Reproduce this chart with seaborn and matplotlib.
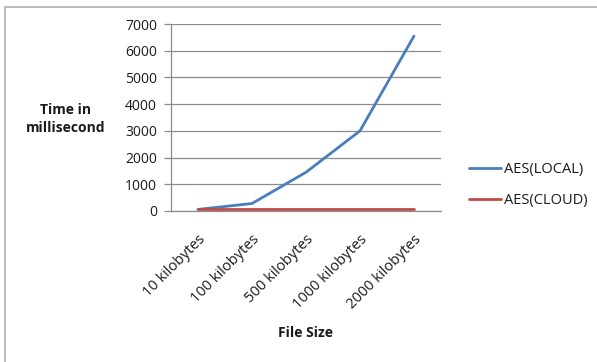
import matplotlib
matplotlib.use("Agg")
import matplotlib.pyplot as plt
from matplotlib.patches import Rectangle
import seaborn as sns
import pandas as pd

# Encryption time per file size
file_sizes = ["10 kilobytes", "100 kilobytes", "500 kilobytes", "1000 kilobytes", "2000 kilobytes"]
aes_local = [60, 280, 1450, 3000, 6550]
aes_cloud = [80, 80, 80, 80, 80]
series_names = ["AES(LOCAL)", "AES(CLOUD)"]
y_ticks = [0, 1000, 2000, 3000, 4000, 5000, 6000, 7000]

df = pd.DataFrame({
    "File Size": file_sizes * 2,
    "Time": aes_local + aes_cloud,
    "Series": [series_names[0]] * len(file_sizes) + [series_names[1]] * len(file_sizes),
})

sns.set_style("white")
plt.rcParams["font.family"] = ["Open Sans", "DejaVu Sans"]
plt.rcParams["text.color"] = "#1a1a1a"

fig = plt.figure(figsize=(5.97, 3.62), dpi=100)
ax = fig.add_axes([171 / 597, 1 - 211 / 362, 270 / 597, 187 / 362])

# chart frame
fig.patches.append(Rectangle((5 / 597, -0.05), 1.1, 1 - 7 / 362 + 0.05,
                             transform=fig.transFigure, fill=False,
                             edgecolor="#b0b0b0", linewidth=1.2, zorder=0))

palette = {"AES(LOCAL)": "#4a7ebb", "AES(CLOUD)": "#be4b48"}
sns.lineplot(data=df, x="File Size", y="Time", hue="Series", palette=palette,
             linewidth=2.0, ax=ax, legend=False, sort=False)

ax.set_xlim(-0.5, len(file_sizes) - 0.5)
ax.set_ylim(0, 7000)
ax.set_yticks(y_ticks)
ax.set_yticklabels([str(v) for v in y_ticks], fontsize=10, color="#1a1a1a")
ax.yaxis.grid(True, color="#8c8c8c", linewidth=0.9)
ax.set_axisbelow(True)

ax.set_xticks(range(len(file_sizes)))
ax.set_xticklabels(file_sizes, rotation=45, ha="right", rotation_mode="anchor",
                   fontsize=10.5, color="#1a1a1a")
ax.tick_params(axis="x", length=0, pad=15)
# category boundary ticks
ax.set_xticks([i - 0.5 for i in range(len(file_sizes) + 1)], minor=True)
ax.tick_params(axis="x", which="minor", length=5, color="#8c8c8c", width=0.9)
ax.tick_params(axis="y", length=5, color="#8c8c8c", width=0.9, pad=5, left=True)

for side in ["top", "right"]:
    ax.spines[side].set_visible(False)
for side in ["left", "bottom"]:
    ax.spines[side].set_color("#8c8c8c")
    ax.spines[side].set_linewidth(0.9)

ax.set_xlabel("")
ax.set_ylabel("")
fig.text(66 / 597, 1 - 119 / 362, "Time in\nmillisecond", ha="center", va="center",
         fontsize=10, fontweight="bold", linespacing=1.35)
fig.text(305 / 597, 1 - 333 / 362, "File Size", ha="center", va="center",
         fontsize=10, fontweight="bold")

handles = [plt.Line2D([], [], color=palette[n], linewidth=2.0) for n in series_names]
fig.legend(handles, series_names, loc="center left",
           bbox_to_anchor=(456 / 597, 1 - 185 / 362), frameon=False,
           fontsize=10.5, handlelength=2.2, handletextpad=0.2, labelspacing=1.15)

fig.savefig("out.png", dpi=100)
